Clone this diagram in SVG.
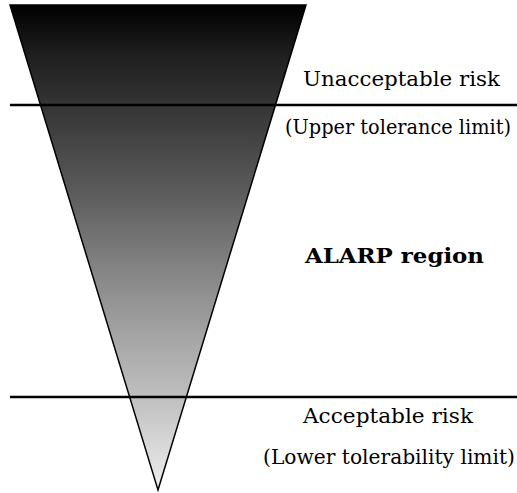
<svg xmlns="http://www.w3.org/2000/svg" width="517" height="493" viewBox="0 0 517 493">
<style>
.t{font-family:"DejaVu Serif","Liberation Serif",serif;font-size:20px;fill:#000}
.b{font-weight:bold}
.ln{stroke:#000;stroke-width:2.5;fill:none}
</style>
<defs>
<linearGradient id="g" x1="0" y1="5" x2="0" y2="490" gradientUnits="userSpaceOnUse">
<stop offset="0" stop-color="#000"/>
<stop offset="0.1" stop-color="#1e1e1e"/>
<stop offset="0.2" stop-color="#333"/>
<stop offset="0.38" stop-color="#5a5a5a"/>
<stop offset="0.57" stop-color="#8a8a8a"/>
<stop offset="0.7" stop-color="#a8a8a8"/>
<stop offset="0.8" stop-color="#bdbdbd"/>
<stop offset="1" stop-color="#eee"/>
</linearGradient>
</defs>
<rect width="517" height="493" fill="#fff"/>
<g id="triangle">
<polygon points="10,5 306,5 158,490" fill="url(#g)" stroke="#000" stroke-width="1.5"/>
</g>
<g id="connectors">
<line class="ln" x1="10" y1="105" x2="517" y2="105"/>
<line class="ln" x1="10" y1="397" x2="517" y2="397"/>
</g>
<g id="labels">
<text class="t" x="303" y="86" textLength="197" lengthAdjust="spacingAndGlyphs">Unacceptable risk</text>
<text class="t" x="285" y="134" textLength="226" lengthAdjust="spacingAndGlyphs">(Upper tolerance limit)</text>
<text class="t b" x="305" y="263" textLength="179" lengthAdjust="spacingAndGlyphs">ALARP region</text>
<text class="t" x="303" y="423" textLength="170" lengthAdjust="spacingAndGlyphs">Acceptable risk</text>
<text class="t" x="263" y="464" textLength="252" lengthAdjust="spacingAndGlyphs">(Lower tolerability limit)</text>
</g>
</svg>
